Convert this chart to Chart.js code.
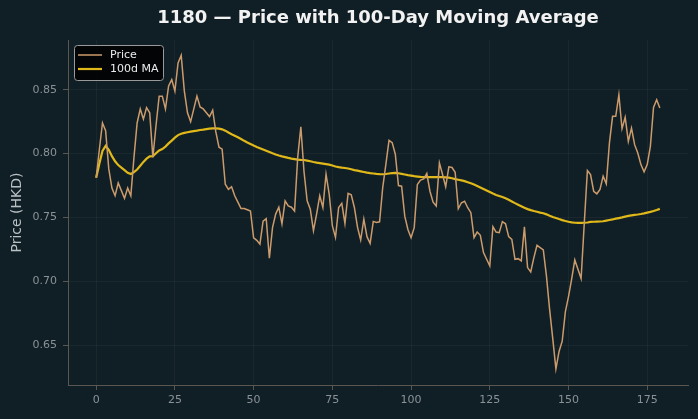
<!DOCTYPE html>
<html>
<head>
<meta charset="utf-8">
<script src="https://cdn.jsdelivr.net/npm/chart.js@4.4.0/dist/chart.umd.min.js"></script>
<style>
  html, body { margin: 0; padding: 0; background: #101f25; }
</style>
</head>
<body>
<canvas id="chart" width="698" height="419"></canvas>
<script>
const chartTitle = "1180 — Price with 100-Day Moving Average";
const yLabel = "Price (HKD)";

// daily close, day 0..179
const price = [
  0.781, 0.803, 0.824, 0.818, 0.788, 0.773, 0.767, 0.777, 0.771, 0.765,
  0.773, 0.767, 0.797, 0.824, 0.835, 0.827, 0.836, 0.832, 0.797, 0.822,
  0.845, 0.845, 0.835, 0.853, 0.858, 0.849, 0.871, 0.877, 0.849, 0.832,
  0.825, 0.835, 0.845, 0.8365, 0.835, 0.832, 0.829, 0.834, 0.817, 0.805,
  0.8035, 0.776, 0.772, 0.774, 0.767, 0.762, 0.757, 0.757, 0.756, 0.755,
  0.734, 0.732, 0.729, 0.747, 0.749, 0.718, 0.742, 0.7526, 0.758, 0.745,
  0.763, 0.759, 0.758, 0.755, 0.797, 0.821, 0.786, 0.763, 0.7565, 0.7396,
  0.7526, 0.767, 0.7578, 0.7838, 0.7682, 0.7435, 0.7344, 0.7578, 0.761, 0.7453,
  0.7688, 0.7677, 0.7578, 0.7422, 0.7323, 0.7487, 0.7349, 0.7297, 0.7469, 0.7461,
  0.7466, 0.7734, 0.7916, 0.8104, 0.8086, 0.7995, 0.775, 0.7745, 0.751, 0.7406,
  0.7341, 0.742, 0.7758, 0.7792, 0.7802, 0.7844, 0.7705, 0.762, 0.7589, 0.7927,
  0.7836, 0.774, 0.7896, 0.7891, 0.7854, 0.7568, 0.7615, 0.7627, 0.7576, 0.7537,
  0.7341, 0.7385, 0.736, 0.7224, 0.7172, 0.712, 0.7427, 0.7385, 0.738, 0.7467,
  0.745, 0.7349, 0.7328, 0.7172, 0.7177, 0.7159, 0.7427, 0.7107, 0.7073, 0.7185,
  0.7281, 0.7263, 0.7245, 0.704, 0.678, 0.655, 0.6313, 0.645, 0.653, 0.676,
  0.688, 0.7016, 0.7167, 0.7093, 0.7021, 0.745, 0.7867, 0.7836, 0.7705, 0.7685,
  0.7719, 0.7823, 0.7763, 0.8084, 0.8292, 0.8292, 0.8461, 0.8195, 0.8284, 0.8096,
  0.82, 0.807, 0.8005, 0.7914, 0.7857, 0.7914, 0.8057, 0.8362, 0.8422, 0.8357
];

// 100-day moving average as drawn
const ma100 = [
  0.781, 0.792, 0.802, 0.806, 0.803, 0.798, 0.794, 0.791, 0.789, 0.787,
  0.785, 0.784, 0.7855, 0.7875, 0.7905, 0.7935, 0.796, 0.7978, 0.798, 0.8003,
  0.8025, 0.8036, 0.8055, 0.808, 0.8102, 0.8125, 0.8145, 0.8155, 0.8162, 0.8167,
  0.8172, 0.8176, 0.818, 0.8185, 0.8188, 0.8192, 0.8195, 0.8198, 0.8198, 0.8195,
  0.819, 0.818, 0.8165, 0.8152, 0.814, 0.8128, 0.8114, 0.81, 0.8087, 0.8075,
  0.8063, 0.8052, 0.8042, 0.8032, 0.8022, 0.8012, 0.8002, 0.7993, 0.7985, 0.7978,
  0.7972, 0.7966, 0.7961, 0.7957, 0.7953, 0.7951, 0.795, 0.7945, 0.794, 0.7934,
  0.7929, 0.7925, 0.7921, 0.7917, 0.7913, 0.7907, 0.7899, 0.7894, 0.789, 0.7887,
  0.7883, 0.7877, 0.7871, 0.7866, 0.7861, 0.7856, 0.7851, 0.7847, 0.7844, 0.7841,
  0.7839, 0.7838, 0.784, 0.7844, 0.7847, 0.7849, 0.7846, 0.7841, 0.7836, 0.7831,
  0.7827, 0.7823, 0.782, 0.7817, 0.7815, 0.7815, 0.7815, 0.7815, 0.7815, 0.7815,
  0.7815, 0.7814, 0.7812, 0.7807, 0.78, 0.7795, 0.779, 0.7784, 0.7776, 0.7768,
  0.7758, 0.7747, 0.7735, 0.7723, 0.7711, 0.7699, 0.7687, 0.7676, 0.7668, 0.766,
  0.765, 0.7638, 0.7625, 0.7612, 0.76, 0.7588, 0.7575, 0.7565, 0.7557, 0.755,
  0.7544, 0.7538, 0.7533, 0.7524, 0.7513, 0.7503, 0.7496, 0.7487, 0.7479, 0.7472,
  0.7466, 0.7461, 0.7458, 0.7457, 0.7457, 0.7458, 0.746, 0.7465, 0.7466, 0.7467,
  0.7468, 0.747, 0.7475, 0.748, 0.7484, 0.749, 0.7495, 0.75, 0.7506, 0.7512,
  0.7516, 0.752, 0.7523, 0.7527, 0.7532, 0.7538, 0.7543, 0.755, 0.7558, 0.7567
];

const xTicks = [0, 25, 50, 75, 100, 125, 150, 175];
const yTicks = [0.65, 0.70, 0.75, 0.80, 0.85];

const FONT = "'DejaVu Sans', sans-serif";
const tickColor = "#8a9297";
const spineColor = "#5a5752";
const gridColor = "rgba(255,255,255,0.045)";

// title + legend box are drawn by hand so they sit where the original has them
const decorations = {
  id: "decorations",
  afterDraw(chart) {
    const ctx = chart.ctx;
    ctx.save();
    ctx.fillStyle = "#f2f2f2";
    ctx.font = "bold 18px " + FONT;
    ctx.textAlign = "center";
    ctx.textBaseline = "middle";
    const area = chart.chartArea;
    ctx.fillText(chartTitle, (area.left + area.right) / 2, 18.5);

    // legend
    const x0 = 74.5, y0 = 45.5, w = 89, h = 35;
    ctx.beginPath();
    ctx.roundRect(x0, y0, w, h, 3);
    ctx.fillStyle = "rgba(0,0,0,0.85)";
    ctx.fill();
    ctx.strokeStyle = "#9a9a9a";
    ctx.lineWidth = 1;
    ctx.stroke();
    ctx.font = "11px " + FONT;
    ctx.textAlign = "left";
    chart.data.datasets.forEach((ds, i) => {
      const y = 55 + i * 14;
      ctx.beginPath();
      ctx.moveTo(78, y);
      ctx.lineTo(102, y);
      ctx.strokeStyle = ds.borderColor;
      ctx.lineWidth = ds.borderWidth;
      ctx.stroke();
      ctx.fillStyle = "#ececec";
      ctx.fillText(ds.label, 110, y + 0.5);
    });
    ctx.restore();
  }
};

new Chart(document.getElementById("chart"), {
  type: "line",
  data: {
    datasets: [
      {
        label: "Price",
        data: price.map((v, i) => ({ x: i, y: v })),
        borderColor: "#cc9b6c",
        borderWidth: 1.5,
        pointRadius: 0,
        tension: 0
      },
      {
        label: "100d MA",
        data: ma100.map((v, i) => ({ x: i, y: v })),
        borderColor: "#e0b81a",
        borderWidth: 2.2,
        pointRadius: 0,
        tension: 0
      }
    ]
  },
  options: {
    responsive: false,
    animation: false,
    events: [],
    layout: { padding: { top: 40, right: 10, left: 0, bottom: 0 } },
    plugins: {
      legend: { display: false },
      title: { display: false },
      tooltip: { enabled: false }
    },
    scales: {
      x: {
        type: "linear",
        min: -8.95,
        max: 187.95,
        afterBuildTicks: s => { s.ticks = xTicks.map(v => ({ value: v })); },
        afterFit: s => { s.height = 34; },
        ticks: { color: tickColor, font: { family: FONT, size: 11 }, padding: 4, maxRotation: 0 },
        grid: { color: gridColor, tickColor: spineColor, tickLength: 5 },
        border: { color: spineColor, width: 1 }
      },
      y: {
        type: "linear",
        min: 0.6187,
        max: 0.889,
        afterBuildTicks: s => { s.ticks = yTicks.map(v => ({ value: v })); },
        afterFit: s => { s.width = 68; },
        ticks: {
          color: tickColor,
          font: { family: FONT, size: 11 },
          padding: 6,
          callback: v => v.toFixed(2)
        },
        grid: { color: gridColor, tickColor: spineColor, tickLength: 5 },
        border: { color: spineColor, width: 1 },
        title: {
          display: true,
          text: yLabel,
          color: "#b9c0c4",
          font: { family: FONT, size: 14 },
          padding: { top: 9, bottom: 0 }
        }
      }
    }
  },
  plugins: [decorations]
});
</script>
</body>
</html>
